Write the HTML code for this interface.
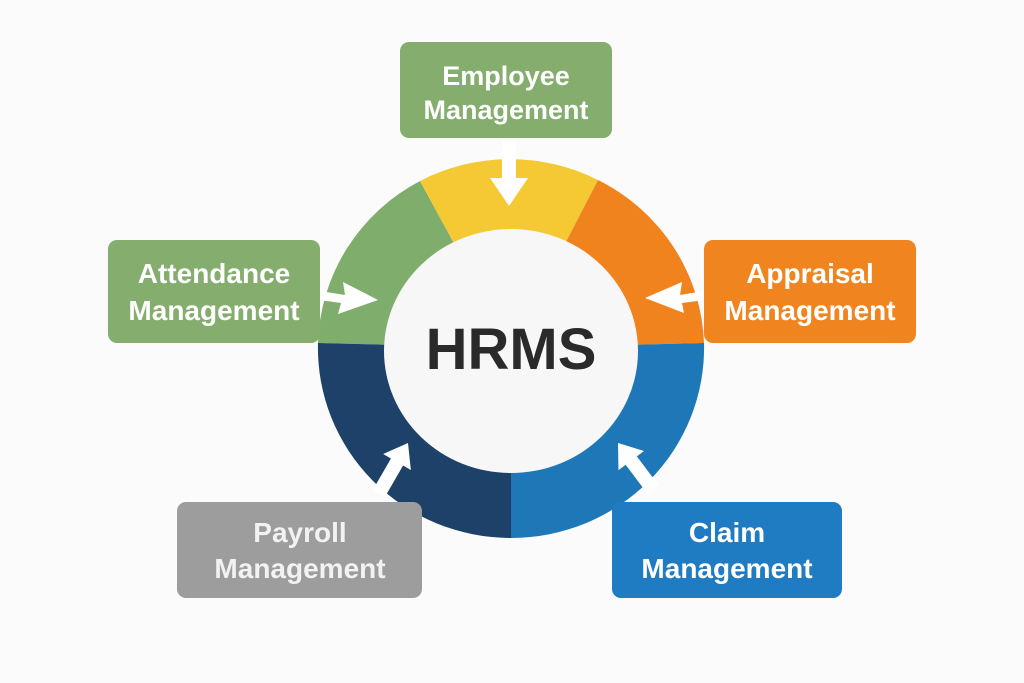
<!DOCTYPE html>
<html><head><meta charset="utf-8"><style>
html,body{margin:0;padding:0;background:#fbfbfb;}
svg{display:block}
text{font-family:"Liberation Sans",sans-serif;font-weight:bold;}
</style></head><body>
<svg width="1024" height="683" viewBox="0 0 1024 683" xmlns="http://www.w3.org/2000/svg">
<rect width="1024" height="683" fill="#fbfbfb"/>
<g transform="translate(511,348)">
  <path d="M -193 -5 A 193 190 0 0 1 -91 -167 L 0 0 Z" fill="#7fae6c"/>
  <path d="M -91 -167 A 193 190 0 0 1 87 -168 L 0 0 Z" fill="#f5c934"/>
  <path d="M 87 -168 A 193 190 0 0 1 193 -5 L 0 0 Z" fill="#f0831e"/>
  <path d="M 193 -5 A 193 190 0 0 1 0 190 L 0 0 Z" fill="#1e78b8"/>
  <path d="M 0 190 A 193 190 0 0 1 -193 -5 L 0 0 Z" fill="#1d4168"/>
  <ellipse cx="0" cy="3" rx="127" ry="122" fill="#f7f7f7"/>
</g>
<text x="511" y="369" font-size="58" fill="#2a2a2a" text-anchor="middle">HRMS</text>

<g fill="#fff" stroke="none">
  <rect x="502" y="140" width="14" height="40"/>
  <polygon points="490,178 528,178 509,206"/>
  <polygon points="306,284 314,290 345,295 343,282 378,300 338,314 341,303 312,299"/>
  <polygon points="718,284 710,290 680,295 682,282 645,298 684,313 682,303 712,299"/>
  <g transform="translate(408,443) rotate(120)">
    <polygon points="0,0 22,-16 22,-7 58,-7 58,7 22,7 22,16"/>
  </g>
  <g transform="translate(618,443) rotate(-127)">
    <polygon points="0,0 -22,-16 -22,-7 -58,-7 -58,7 -22,7 -22,16"/>
  </g>
</g>

<rect x="400" y="42" width="212" height="96" rx="9" fill="#84ad6e"/>
<text x="506" y="85" font-size="27" fill="#fff" text-anchor="middle">Employee</text>
<text x="506" y="119" font-size="27" fill="#fff" text-anchor="middle">Management</text>

<rect x="108" y="240" width="212" height="103" rx="9" fill="#84ad6e"/>
<text x="214" y="283" font-size="28" fill="#fff" text-anchor="middle">Attendance</text>
<text x="214" y="320" font-size="28" fill="#fff" text-anchor="middle">Management</text>

<rect x="704" y="240" width="212" height="103" rx="9" fill="#f0851f"/>
<text x="810" y="283" font-size="28" fill="#fff" text-anchor="middle">Appraisal</text>
<text x="810" y="320" font-size="28" fill="#fff" text-anchor="middle">Management</text>

<rect x="177" y="502" width="245" height="96" rx="9" fill="#9d9d9d"/>
<text x="300" y="542" font-size="28" fill="#f2f2f2" text-anchor="middle">Payroll</text>
<text x="300" y="578" font-size="28" fill="#f2f2f2" text-anchor="middle">Management</text>

<rect x="612" y="502" width="230" height="96" rx="9" fill="#1f7cc2"/>
<text x="727" y="542" font-size="28" fill="#fff" text-anchor="middle">Claim</text>
<text x="727" y="578" font-size="28" fill="#fff" text-anchor="middle">Management</text>
</svg>
</body></html>
